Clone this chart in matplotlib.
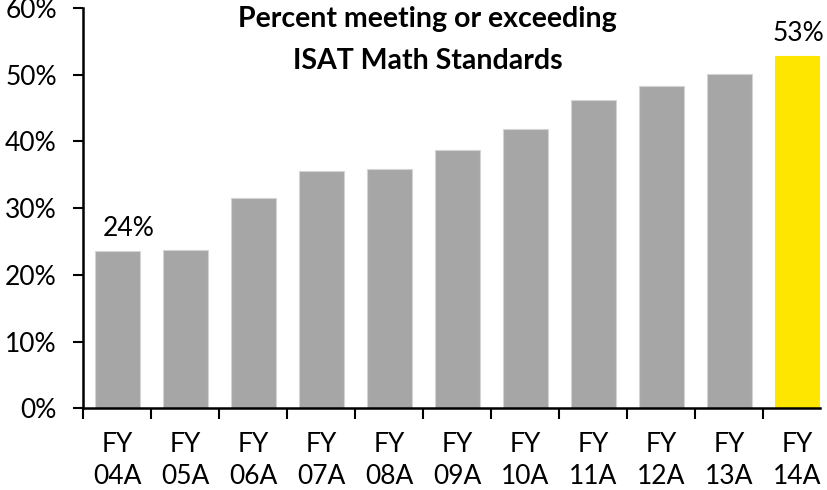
import matplotlib
matplotlib.use("Agg")
import matplotlib.pyplot as plt
from matplotlib.ticker import FuncFormatter, FixedLocator

plt.rcParams['font.family'] = ['Lato', 'DejaVu Sans']

categories = ["FY\n04A", "FY\n05A", "FY\n06A", "FY\n07A", "FY\n08A", "FY\n09A",
              "FY\n10A", "FY\n11A", "FY\n12A", "FY\n13A", "FY\n14A"]
values = [23.6, 23.8, 31.5, 35.6, 35.8, 38.7, 41.9, 46.2, 48.3, 50.1, 52.8]
labelled = {0: "24%", 10: "53%"}
title = "Percent meeting or exceeding\nISAT Math Standards"

grey = "#A6A6A6"
yellow = "#FFE600"
colors = [grey] * (len(values) - 1) + [yellow]
edges = ["#D4D4D4"] * (len(values) - 1) + [yellow]
# horizontal nudge (points) of each value label
label_dx = {0: 8, 10: 1}

fig = plt.figure(figsize=(8.27, 4.90), dpi=100)
ax = fig.add_axes([0.1007, 0.1667, 0.8908, 0.8170])

x = list(range(len(values)))
bar_w = 0.667
ax.bar(x, values, width=bar_w, color=colors, edgecolor=edges, linewidth=0.8, zorder=2)

for i, txt in labelled.items():
    ax.annotate(txt, (x[i], values[i]), xytext=(label_dx[i], 7), textcoords="offset points",
                ha="center", va="bottom", fontsize=19, color="#000000")

ax.set_xlim(-0.5, len(values) - 1 + bar_w / 2)
ax.set_ylim(0, 60)
ax.set_yticks(range(0, 61, 10))
ax.yaxis.set_major_formatter(FuncFormatter(lambda v, p: f"{v:.0f}%"))

# category labels centred, ticks drawn at category boundaries
ax.set_xticks(x)
ax.set_xticklabels(categories, linespacing=1.33)
ax.tick_params(axis="x", which="major", length=0, pad=17, labelsize=19)
ax.xaxis.set_minor_locator(FixedLocator([i - 0.5 for i in range(len(values))]))
ax.tick_params(axis="x", which="minor", length=8, width=1.5, direction="out")
ax.tick_params(axis="y", length=7, width=1.5, direction="out", pad=12, labelsize=19)

for s in ("top", "right"):
    ax.spines[s].set_visible(False)
for s in ("left", "bottom"):
    ax.spines[s].set_linewidth(1.8)
    ax.spines[s].set_color("#000000")

fig.text(0.517, 0.988, title, ha="center", va="top", fontsize=20.5, fontweight="bold",
         linespacing=1.75)

fig.savefig("out.png", dpi=100)
